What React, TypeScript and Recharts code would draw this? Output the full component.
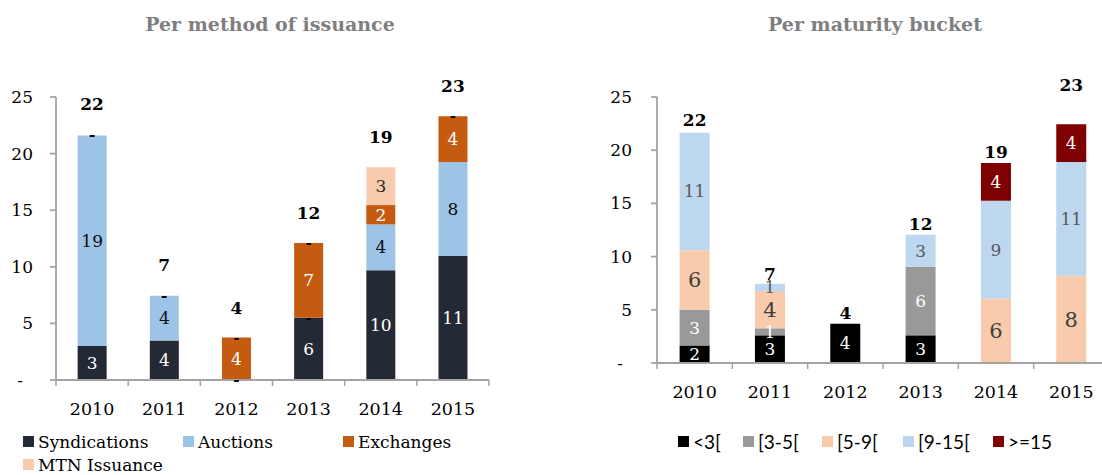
import { BarChart, Bar, XAxis, YAxis, LabelList, ReferenceDot } from "recharts";

/* ── Data ── */

const YEARS = ["2010", "2011", "2012", "2013", "2014", "2015"];
const Y_TICKS = [0, 5, 10, 15, 20, 25];

// per method of issuance
const SYNDICATIONS = [3.0, 3.5, 0, 5.5, 9.7, 10.95];
const AUCTIONS = [18.6, 3.95, 0, 0, 4.05, 8.3];
const EXCHANGES = [0, 0, 3.75, 6.6, 1.7, 4.05];
const MTN = [0, 0, 0, 0, 3.35, 0];
const ISSUANCE_TOTALS = [22, 7, 4, 12, 19, 23];
const ISSUANCE_TOTAL_AT = [24.4, 10.15, 6.33, 14.77, 21.47, 26.0];

// per maturity bucket
const LT3 = [1.65, 2.6, 3.7, 2.6, 0, 0];
const B3_5 = [3.35, 0.66, 0, 6.45, 0, 0];
const B5_9 = [5.6, 3.5, 0, 0, 6.05, 8.2];
const B9_15 = [11.05, 0.68, 0, 3.0, 9.2, 10.7];
const GE15 = [0, 0, 0, 0, 3.55, 3.55];
const MATURITY_TOTALS = [22, 7, 4, 12, 19, 23];
const MATURITY_TOTAL_AT = [22.87, 8.39, 4.7, 13.09, 19.86, 26.1];

/* ── Styles ── */

const FONT = "'DejaVu Serif', serif";
const SANS = "Lato, 'Open Sans', sans-serif";
const AXIS = "#a3a3a3";

const ISSUANCE_SERIES = [
  { key: "synd", name: "Syndications", fill: "#232a35", text: "#ffffff", size: 17 },
  { key: "auct", name: "Auctions", fill: "#9dc3e6", text: "#0d0d0d", size: 17 },
  { key: "exch", name: "Exchanges", fill: "#c55a11", text: "#ffffff", size: 17 },
  { key: "mtn", name: "MTN Issuance", fill: "#f8cbad", text: "#262626", size: 17 },
];

const MATURITY_SERIES = [
  { key: "lt3", name: "<3[", fill: "#000000", text: "#ffffff", size: 17 },
  { key: "b35", name: "[3-5[", fill: "#999999", text: "#ffffff", size: 17 },
  { key: "b59", name: "[5-9[", fill: "#f8cbad", text: "#404040", size: 21 },
  { key: "b915", name: "[9-15[", fill: "#bdd7ee", text: "#595959", size: 17 },
  { key: "ge15", name: ">=15", fill: "#7f0000", text: "#ffffff", size: 17 },
];

// legend item offsets (px from legend start)
const MATURITY_LEGEND_X = [0, 65, 144, 225, 315];

const issuanceData = YEARS.map((year, i) => ({
  year,
  synd: SYNDICATIONS[i],
  auct: AUCTIONS[i],
  exch: EXCHANGES[i],
  mtn: MTN[i],
}));

const maturityData = YEARS.map((year, i) => ({
  year,
  lt3: LT3[i],
  b35: B3_5[i],
  b59: B5_9[i],
  b915: B9_15[i],
  ge15: GE15[i],
}));

// zero-valued issuance segments get a "-" label at their place in the stack
const issuanceDashes = issuanceData.flatMap((row: any) => {
  let base = 0;
  return ISSUANCE_SERIES.flatMap((s) => {
    const v = row[s.key];
    const out = v === 0 ? [{ year: row.year, at: base, key: `${row.year}-${s.key}` }] : [];
    base += v;
    return out;
  });
});

/* ── Custom ticks / labels ── */

function makeXTick(halfBand: number, count: number) {
  return (props: any) => {
    const { x, y, payload, index } = props;
    const off = payload && payload.offset ? payload.offset : halfBand;
    return (
      <g>
        <line x1={x - off} x2={x - off} y1={y} y2={y + 6} stroke={AXIS} strokeWidth={1.5} />
        {index === count - 1 && (
          <line x1={x + off} x2={x + off} y1={y} y2={y + 6} stroke={AXIS} strokeWidth={1.5} />
        )}
        <text x={x} y={y + 35} textAnchor="middle" fontSize={17.5} fontFamily={FONT} fill="#000">
          {payload.value}
        </text>
      </g>
    );
  };
}

function makeYTick(dashShift: number) {
  return (props: any) => {
    const { x, y, payload } = props;
    const v = payload.value;
    return (
      <text
        x={v === 0 ? x - dashShift : x}
        y={y}
        dy="0.35em"
        textAnchor="end"
        fontSize={17}
        fontFamily={FONT}
        fill="#000"
      >
        {v === 0 ? "-" : v}
      </text>
    );
  };
}

function makeLabel(color: string, size: number) {
  return (props: any) => {
    const vb = props.viewBox || props;
    const { x, y, width, height } = vb;
    const v = Number(props.value);
    if (!v) return null;
    return (
      <text x={x + width / 2} y={y + height / 2} dy="0.35em" textAnchor="middle" fontSize={size} fontFamily={FONT} fill={color}>
        {Math.round(v)}
      </text>
    );
  };
}

function Swatch({ color }: { color: string }) {
  return <span style={{ display: "inline-block", width: 11, height: 11, background: color, marginRight: 4 }} />;
}

/* ── App ── */

export default function App() {
  return (
    <div
      style={{
        position: "absolute",
        left: 0,
        top: 0,
        width: 1102,
        height: 475,
        overflow: "hidden",
        background: "#fff",
        fontFamily: FONT,
      }}
    >
      {/* left chart */}
      <div style={{ position: "absolute", left: 0, top: 12, width: 540, textAlign: "center", fontSize: 19, lineHeight: "24px", fontWeight: 700, color: "#7f7f7f" }}>
        Per method of issuance
      </div>
      <div style={{ position: "absolute", left: 0, top: 0 }}>
        <BarChart
          width={520}
          height={420}
          data={issuanceData}
          margin={{ top: 97, right: 31, bottom: 10, left: 0 }}
          barCategoryGap="30%"
        >
          <XAxis
            dataKey="year"
            height={30}
            stroke={AXIS}
            strokeWidth={1.8}
            tickLine={false}
            tickSize={0}
            tickMargin={0}
            interval={0}
            tick={makeXTick(433 / 12, YEARS.length)}
          />
          <YAxis
            width={56}
            domain={[0, 25]}
            ticks={Y_TICKS}
            interval={0}
            stroke={AXIS}
            strokeWidth={1.8}
            tickSize={6}
            tickMargin={17}
            tick={makeYTick(10)}
          />
          {ISSUANCE_SERIES.map((s) => (
            <Bar key={s.key} dataKey={s.key} name={s.name} stackId="a" fill={s.fill} isAnimationActive={false}>
              <LabelList dataKey={s.key} content={makeLabel(s.text, s.size)} />
            </Bar>
          ))}
          {issuanceDashes.map((d) => (
            <ReferenceDot
              key={d.key}
              x={d.year}
              y={d.at}
              r={0}
              fill="none"
              stroke="none"
              ifOverflow="visible"
              label={{ value: "-", position: "center", fill: "#000", fontSize: 14, fontWeight: 700, fontFamily: FONT }}
            />
          ))}
          {YEARS.map((yr, i) => (
            <ReferenceDot
              key={yr}
              x={yr}
              y={ISSUANCE_TOTAL_AT[i]}
              r={0}
              fill="none"
              stroke="none"
              ifOverflow="visible"
              label={{ value: ISSUANCE_TOTALS[i], position: "center", fill: "#000", fontSize: 17, fontWeight: 700, fontFamily: FONT }}
            />
          ))}
        </BarChart>
      </div>
      <div style={{ position: "absolute", left: 23, top: 430, width: 500, display: "flex", flexWrap: "wrap", fontSize: 17, color: "#000" }}>
        {ISSUANCE_SERIES.map((s) => (
          <div key={s.key} style={{ width: 160, height: 23, display: "flex", alignItems: "center" }}>
            <Swatch color={s.fill} />
            <span>{s.name}</span>
          </div>
        ))}
      </div>

      {/* right chart */}
      <div style={{ position: "absolute", left: 580, top: 12, width: 590, textAlign: "center", fontSize: 19, lineHeight: "24px", fontWeight: 700, color: "#7f7f7f" }}>
        Per maturity bucket
      </div>
      <div style={{ position: "absolute", left: 580, top: 0 }}>
        <BarChart
          width={530}
          height={420}
          data={maturityData}
          margin={{ top: 97, right: 1, bottom: 27, left: 0 }}
          barCategoryGap="30%"
        >
          <XAxis
            dataKey="year"
            height={30}
            stroke={AXIS}
            strokeWidth={1.8}
            tickLine={false}
            tickSize={0}
            tickMargin={0}
            interval={0}
            tick={makeXTick(452 / 12, YEARS.length)}
          />
          <YAxis
            width={77}
            domain={[0, 25]}
            ticks={Y_TICKS}
            interval={0}
            stroke={AXIS}
            strokeWidth={1.8}
            tickSize={6}
            tickMargin={19}
            tick={makeYTick(9)}
          />
          {MATURITY_SERIES.map((s) => (
            <Bar key={s.key} dataKey={s.key} name={s.name} stackId="m" fill={s.fill} isAnimationActive={false}>
              <LabelList dataKey={s.key} content={makeLabel(s.text, s.size)} />
            </Bar>
          ))}
          {YEARS.map((yr, i) => (
            <ReferenceDot
              key={yr}
              x={yr}
              y={MATURITY_TOTAL_AT[i]}
              r={0}
              fill="none"
              stroke="none"
              ifOverflow="visible"
              label={{ value: MATURITY_TOTALS[i], position: "center", fill: "#000", fontSize: 17, fontWeight: 700, fontFamily: FONT }}
            />
          ))}
        </BarChart>
      </div>
      <div style={{ position: "absolute", left: 678, top: 429, width: 420, height: 24, fontFamily: SANS, fontSize: 19, color: "#000" }}>
        {MATURITY_SERIES.map((s, i) => (
          <div
            key={s.key}
            style={{ position: "absolute", left: MATURITY_LEGEND_X[i], top: 0, height: 24, display: "flex", alignItems: "center", whiteSpace: "nowrap" }}
          >
            <Swatch color={s.fill} />
            <span>{s.name}</span>
          </div>
        ))}
      </div>
    </div>
  );
}
